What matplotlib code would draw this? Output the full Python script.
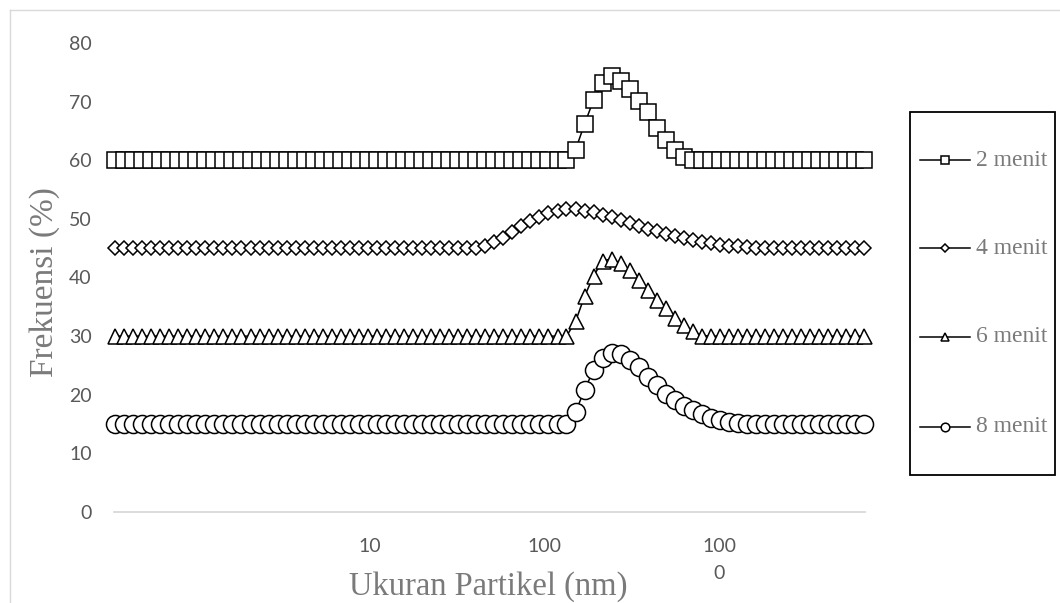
import matplotlib
matplotlib.use("Agg")
import matplotlib.pyplot as plt
from matplotlib.lines import Line2D
from matplotlib.patches import Rectangle

# particle size bins (nm)
ukuran = [0.350, 0.394, 0.444, 0.500, 0.563, 0.634, 0.714, 0.804, 0.906, 1.020,
          1.149, 1.294, 1.457, 1.641, 1.848, 2.082, 2.345, 2.641, 2.974, 3.350,
          3.772, 4.248, 4.785, 5.388, 6.068, 6.834, 7.696, 8.670, 9.764, 10.996,
          12.38, 13.95, 15.71, 17.69, 19.92, 22.44, 25.27, 28.46, 32.05, 36.11,
          40.66, 45.79, 51.58, 58.08, 65.41, 73.68, 82.99, 93.45, 105.2, 118.6,
          133.5, 150.4, 169.4, 190.8, 214.8, 241.9, 272.5, 306.9, 345.6, 389.3,
          438.4, 493.6, 556.1, 626.2, 705.2, 794.1, 894.5, 1007, 1134, 1278,
          1439, 1621, 1826, 2056, 2316, 2608, 2938, 3308, 3725, 4196,
          4725, 5321, 5995, 6751]

menit_2 = ([60.0] * 51 +
           [61.8, 66.2, 70.3, 73.1, 74.3, 73.5, 72.1, 70.1, 68.3, 65.5, 63.5, 61.8, 60.5] +
           [60.0] * 20)
menit_4 = ([45.0] * 41 +
           [45.3, 46.0, 46.8, 47.7, 48.7, 49.6, 50.4, 51.0, 51.4, 51.6,
            51.6, 51.4, 51.1, 50.7, 50.3, 49.8, 49.3, 48.8, 48.3, 47.9,
            47.5, 47.1, 46.7, 46.4, 46.1, 45.8, 45.6, 45.4, 45.3, 45.2, 45.1] +
           [45.0] * 12)
menit_6 = ([30.0] * 51 +
           [32.5, 36.8, 40.3, 42.8, 43.2, 42.4, 41.3, 39.6, 37.9, 36.2, 34.8, 33.1, 31.9, 30.8, 30.1] +
           [30.0] * 18)
menit_8 = ([15.0] * 51 +
           [17.1, 20.8, 24.3, 26.2, 27.1, 26.9, 26.0, 24.7, 23.0, 21.6,
            20.2, 19.1, 18.0, 17.4, 16.8, 16.1, 15.7, 15.4, 15.1] +
           [15.0] * 14)

labels = ["2 menit", "4 menit", "6 menit", "8 menit"]
series = [menit_2, menit_4, menit_6, menit_8]
markers = ["s", "D", "^", "o"]
msizes = [12.2, 6.8, 10.8, 13.0]
leg_msizes = [5.5, 4.2, 6.0, 6.2]

W, H = 1060, 603
fig = plt.figure(figsize=(W / 100, H / 100), dpi=100)
ax = fig.add_axes([114 / W, 1 - 512 / H, 751 / W, 469 / H])

for y, m, ms in zip(series, markers, msizes):
    ax.plot(ukuran, y, color="black", lw=1.1, marker=m, ms=ms,
            mfc="white", mec="black", mew=1.1, clip_on=False)

ax.set_xscale("log")
ax.set_xlim(0.345, 6800)
ax.set_ylim(0, 80)
ax.set_yticks(range(0, 81, 10))
ax.set_xticks([10, 100, 1000])
ax.set_xticklabels(["10", "100", "100\n0"])
ax.xaxis.set_minor_locator(plt.NullLocator())
ax.tick_params(length=0, labelsize=14, labelcolor="#595959", labelfontfamily="Lato")
ax.tick_params(axis="y", pad=16)
ax.tick_params(axis="x", pad=19)
for lab in ax.get_xticklabels():
    lab.set_linespacing(1.7)

for s in ["top", "right", "left"]:
    ax.spines[s].set_visible(False)
ax.spines["bottom"].set_color("#d9d9d9")
ax.spines["bottom"].set_linewidth(1.3)

ax.set_xlabel("Ukuran Partikel (nm)", fontsize=23.5, family="Liberation Serif",
              color="#7a7a7a", va="center")
ax.xaxis.set_label_coords(0.499, -0.158)
ax.set_ylabel("Frekuensi (%)", fontsize=24, family="Liberation Serif",
              color="#7a7a7a", va="center")
ax.yaxis.set_label_coords(-0.092, 0.490)


def fx(px):
    return px / W


def fy(py):
    return 1 - py / H


# legend box
fig.add_artist(Rectangle((fx(910), fy(475)), (1055 - 910) / W, (475 - 112) / H,
                         transform=fig.transFigure, fill=False,
                         edgecolor="black", lw=1.3))
for i, (lab, m, ms) in enumerate(zip(labels, markers, leg_msizes)):
    yy = [160, 248, 337, 427][i]
    fig.add_artist(Line2D([fx(920), fx(970)], [fy(yy), fy(yy)],
                          transform=fig.transFigure, color="black", lw=1.1))
    fig.add_artist(Line2D([fx(945)], [fy(yy)], transform=fig.transFigure,
                          marker=m, ms=ms, mfc="white", mec="black", mew=1.1,
                          linestyle="none"))
    fig.text(fx(976), fy(yy), lab, fontsize=17, family="Liberation Serif",
             color="#7a7a7a", va="center", ha="left")

# chart area border (top and left)
fig.add_artist(Line2D([fx(10), fx(10)], [fy(10), 0], transform=fig.transFigure,
                      color="#d9d9d9", lw=1.0))
fig.add_artist(Line2D([fx(10), 1], [fy(10), fy(10)], transform=fig.transFigure,
                      color="#d9d9d9", lw=1.0))

fig.savefig("out.png", dpi=100)
